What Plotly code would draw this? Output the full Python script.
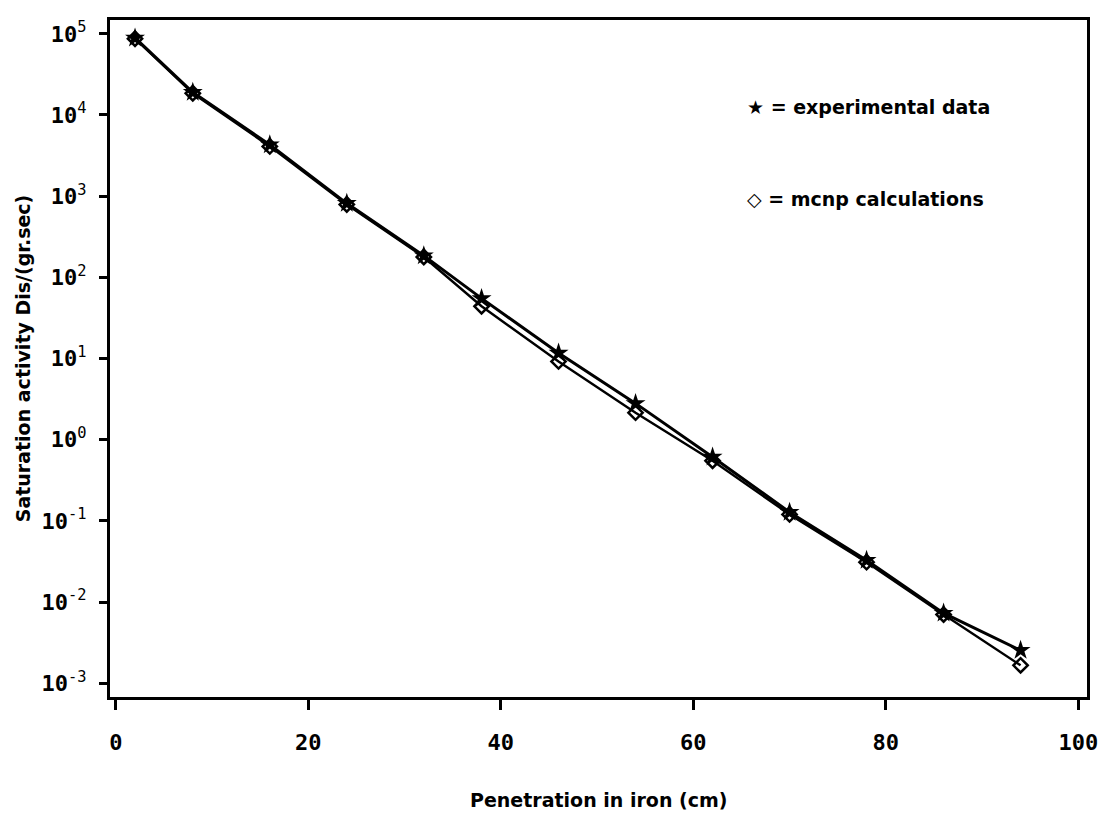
import plotly.graph_objects as go

penetration_cm = [2, 8, 16, 24, 32, 38, 46, 54, 62, 70, 78, 86, 94]
experimental = [8.9e4, 1.9e4, 4.3e3, 815, 185, 55, 11.7, 2.8, 0.61, 0.128, 0.0327, 0.0073, 0.00254]
mcnp = [8.7e4, 1.85e4, 4.1e3, 790, 178, 44, 9.2, 2.15, 0.55, 0.12, 0.031, 0.0070, 0.00166]

y_tickvals = [1e-3, 1e-2, 1e-1, 1e0, 1e1, 1e2, 1e3, 1e4, 1e5]
y_ticktext = ["<b>10</b><sup>-3</sup>", "<b>10</b><sup>-2</sup>", "<b>10</b><sup>-1</sup>", "<b>10</b><sup>0</sup>",
              "<b>10</b><sup>1</sup>", "<b>10</b><sup>2</sup>", "<b>10</b><sup>3</sup>", "<b>10</b><sup>4</sup>",
              "<b>10</b><sup>5</sup>"]
x_tickvals = [0, 20, 40, 60, 80, 100]
x_ticktext = ["<b>0</b>", "<b>20</b>", "<b>40</b>", "<b>60</b>", "<b>80</b>", "<b>100</b>"]

legend_exp = "★ = experimental data"
legend_mcnp = "◇ = mcnp calculations"
x_title = "Penetration in iron (cm)"
y_title = "Saturation activity Dis/(gr.sec)"

fig = go.Figure()
fig.add_trace(go.Scatter(
    x=penetration_cm, y=mcnp, mode="lines+markers",
    line=dict(color="black", width=2.4),
    marker=dict(symbol="diamond-open", size=11, color="black", line=dict(width=2.5)),
    showlegend=False))
fig.add_trace(go.Scatter(
    x=penetration_cm, y=experimental, mode="lines+markers",
    line=dict(color="black", width=3),
    marker=dict(symbol="star", size=15, color="black"),
    showlegend=False))

font_main = "DejaVu Sans"
fig.update_layout(
    width=1109, height=814,
    margin=dict(l=110, r=22, t=20, b=117),
    paper_bgcolor="white", plot_bgcolor="white",
    font=dict(family=font_main, color="black", size=18),
    xaxis=dict(
        range=[-0.6, 100.9], tickvals=x_tickvals, ticktext=x_ticktext,
        ticks="outside", ticklen=10, tickwidth=2.5, tickcolor="black",
        ticklabelstandoff=14, automargin=False,
        showline=True, linecolor="black", linewidth=3, mirror=True,
        showgrid=False, zeroline=False,
        tickfont=dict(family="DejaVu Sans Mono", size=22),
    ),
    yaxis=dict(
        type="log", range=[-3.17, 5.17], tickvals=y_tickvals, ticktext=y_ticktext,
        ticks="outside", ticklen=8, tickwidth=2.5, tickcolor="black",
        ticklabelstandoff=8,
        showline=True, linecolor="black", linewidth=3, mirror=True,
        showgrid=False, zeroline=False,
        tickfont=dict(family="DejaVu Sans Mono", size=22),
        title=dict(text="<b>" + y_title + "</b>", font=dict(size=19), standoff=6),
    ),
    annotations=[
        dict(xref="paper", yref="paper", x=0.5, y=-0.152, xanchor="center", yanchor="middle",
             text="<b>" + x_title + "</b>", showarrow=False, font=dict(size=19)),
        dict(xref="paper", yref="paper", x=0.65, y=0.872, xanchor="left", yanchor="middle",
             text="<b>" + legend_exp + "</b>", showarrow=False, font=dict(size=19)),
        dict(xref="paper", yref="paper", x=0.65, y=0.735, xanchor="left", yanchor="middle",
             text="<b>" + legend_mcnp + "</b>", showarrow=False, font=dict(size=19)),
    ],
)

fig.write_html("out.html")
